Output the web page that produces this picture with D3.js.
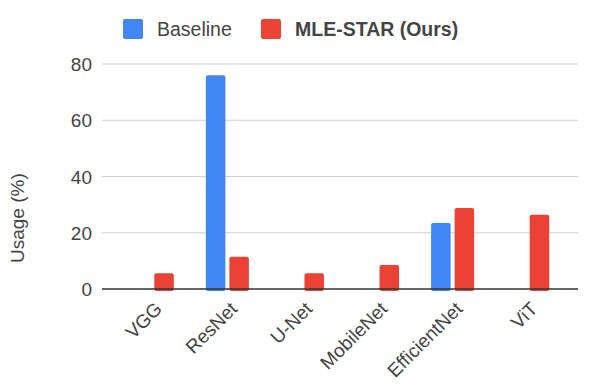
<!DOCTYPE html>
<html lang="en">
  <head>
    <meta charset="utf-8" />
    <title>model usage</title>
    <script type="text/javascript" src="https://d3js.org/d3.v7.min.js"></script>
    <style>
      body { margin: 0; background: #fff; }
      text { font-family: "Liberation Sans", Arial, sans-serif; fill: #444; }
    </style>
  </head>
  <body>
    <div id="graph"></div>

    <script type="text/javascript">
      /***************
       * data
       ***************/

      const categories = ["VGG", "ResNet", "U-Net", "MobileNet", "EfficientNet", "ViT"];
      const seriesNames = ["Baseline", "MLE-STAR (Ours)"];
      const baseline = [0, 76, 0, 0, 23.5, 0];
      const mleStar = [5.6, 11.5, 5.6, 8.5, 28.8, 26.4];
      const yTicks = [0, 20, 40, 60, 80];

      const colors = ["#4285F4", "#EA4335"];

      /***************
       * svg
       ***************/

      const width = 592;
      const height = 391;
      const margin = { top: 64, right: 14, bottom: 102, left: 102 };

      const svg = d3
        .select("div#graph")
        .append("svg")
        .attr("width", width)
        .attr("height", height);

      /***************
       * scales
       ***************/

      const y = d3
        .scaleLinear()
        .domain([0, 80])
        .range([height - margin.bottom, margin.top]);

      const x = d3
        .scalePoint()
        .domain(categories)
        .range([margin.left, width - margin.right])
        .padding(0.67);

      const xSub = d3
        .scaleBand()
        .domain(seriesNames)
        .range([-21.5, 21.5])
        .paddingInner(0.17);

      /***************
       * grid
       ***************/

      svg
        .append("g")
        .selectAll("line")
        .data(yTicks.filter((d) => d > 0))
        .enter()
        .append("line")
        .attr("x1", margin.left)
        .attr("x2", width - margin.right)
        .attr("y1", (d) => y(d))
        .attr("y2", (d) => y(d))
        .attr("stroke", "#d0d0d0")
        .attr("stroke-width", 1.2);

      const yAxis = svg
        .append("g")
        .attr("transform", "translate(" + (margin.left - 10) + ",0)")
        .call(d3.axisLeft(y).tickValues(yTicks).tickSize(0).tickPadding(0));
      yAxis.select(".domain").remove();
      yAxis.selectAll("text").attr("font-size", 19).attr("dy", "0.35em");

      svg
        .append("text")
        .attr("transform", "translate(24,263) rotate(-90)")
        .attr("font-size", 19)
        .text("Usage (%)");

      /***************
       * bars
       ***************/

      const rows = categories.map((c, i) => ({
        cat: c,
        vals: [
          { name: seriesNames[0], value: baseline[i], color: colors[0] },
          { name: seriesNames[1], value: mleStar[i], color: colors[1] },
        ],
      }));

      const groups = svg
        .selectAll("g.group")
        .data(rows)
        .enter()
        .append("g")
        .attr("class", "group")
        .attr("transform", (d) => "translate(" + x(d.cat) + ",0)");

      groups
        .selectAll("rect")
        .data((d) => d.vals.filter((v) => v.value > 0))
        .enter()
        .append("rect")
        .attr("x", (d) => xSub(d.name))
        .attr("width", xSub.bandwidth())
        .attr("y", (d) => y(d.value))
        .attr("height", (d) => y(0) - y(d.value) + 2)
        .attr("rx", 2)
        .attr("fill", (d) => d.color);

      // baseline axis
      svg
        .append("line")
        .attr("x1", margin.left)
        .attr("x2", width - margin.right)
        .attr("y1", y(0))
        .attr("y2", y(0))
        .attr("stroke", "#333")
        .attr("stroke-width", 1.5);

      // x labels
      svg
        .append("g")
        .selectAll("text")
        .data(categories)
        .enter()
        .append("text")
        .attr("transform", (d) => "translate(" + (x(d) + 11) + "," + (y(0) + 21) + ") rotate(-45)")
        .attr("text-anchor", "end")
        .attr("font-size", 19)
        .attr("fill", "#333")
        .text((d) => d);

      /***************
       * legend
       ***************/

      const legendX = [123, 261];
      const legend = svg
        .selectAll("g.legend")
        .data(seriesNames)
        .enter()
        .append("g")
        .attr("class", "legend")
        .attr("transform", (d, i) => "translate(" + legendX[i] + ",19)");

      legend
        .append("rect")
        .attr("width", 20)
        .attr("height", 20)
        .attr("rx", 2)
        .attr("fill", (d, i) => colors[i]);

      legend
        .append("text")
        .attr("x", 34)
        .attr("y", 17)
        .attr("font-size", 19.5)
        .attr("font-weight", (d, i) => (i === 1 ? "bold" : "normal"))
        .attr("fill", (d, i) => (i === 1 ? "#222" : "#444"))
        .text((d) => d);
    </script>
  </body>
</html>
